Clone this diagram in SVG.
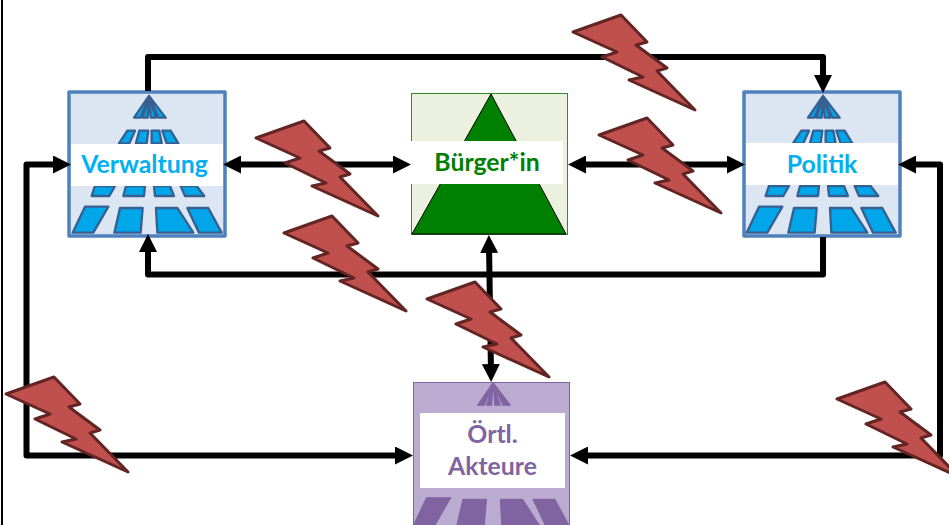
<svg xmlns="http://www.w3.org/2000/svg" width="949" height="525" viewBox="0 0 949 525">
<style>
text{font-family:"Lato","Open Sans","Liberation Sans",sans-serif;font-weight:700;text-anchor:middle;font-size:24.800px}
.conn{fill:none;stroke:#000;stroke-width:6;stroke-linejoin:round}
.bolt{fill:#c0504d;stroke:#632523;stroke-width:3;stroke-linejoin:round}
.blue .frame{fill:#dce6f2;stroke:#4f81bd;stroke-width:3.5;stroke-linejoin:round}
.road-blue{fill:#00a6ea;stroke:#376092;stroke-width:7;stroke-linejoin:round}
.road-purple{fill:#8064a2;stroke:#8064a2;stroke-width:3;stroke-linejoin:round}
.label{fill:#fff}
.bluetext{fill:#00b0f0}
</style>
<defs>
<marker id="ah" markerUnits="userSpaceOnUse" markerWidth="18" markerHeight="18" viewBox="0 0 18 18" refX="8" refY="9" orient="auto-start-reverse"><path d="M0,0L18,9L0,18Z" fill="#000"/></marker>
<g id="road">
<path d="M297,48L252,113H272ZM297,48L278,113H293ZM297,48L302,113H318ZM297,48L325,113H347Z"/>
<path d="M232,152H255L238,190H207ZM268,152H295L290,190H258ZM305,152H328L335,190H305ZM337,152H362L385,190H350Z"/>
<path d="M135,318H195L178,348H125ZM228,318H285L282,348H220ZM312,318H360L372,348H315ZM392,318H440L463,348H405Z"/>
<path d="M105,380H175L130,458H68ZM210,384H278L272,458H193ZM318,384H382L430,458H322ZM412,384H475L515,458H447Z"/>
</g>
<path id="b" d="M0,0L48,-17L74,10L63,13L94,36L84,39L122,78L56,48L70,45L29,25L44,20Z"/>
</defs>
<rect width="949" height="525" fill="#fff"/>
<path id="border" d="M2,0V525" stroke="#000" stroke-width="2" fill="none"/>
<g id="n-verwaltung" class="blue">
<rect class="frame" x="69" y="92" width="156" height="144"/>
<use href="#road" class="road-blue" transform="translate(50,80) scale(.3333)"/>
<rect class="label" x="71" y="144" width="152" height="42"/>
<text class="bluetext" x="144.500" y="172.500">Verwaltung</text>
</g>
<g id="n-buerger">
<rect x="411.500" y="93.500" width="156" height="141" fill="#ebf1de" stroke="#2e8b2e" stroke-width="1"/>
<path d="M491,94L412,234H566Z" fill="#008000" stroke="#000" stroke-width="1"/>
<rect class="label" x="411" y="141" width="152" height="43"/>
<text x="487" y="171" fill="#008000">Bürger*in</text>
</g>
<g id="n-politik" class="blue">
<rect class="frame" x="744" y="92" width="156" height="144"/>
<use href="#road" class="road-blue" transform="translate(724,80) scale(.3333)"/>
<rect class="label" x="746" y="143" width="152" height="42"/>
<text class="bluetext" x="822" y="172.500">Politik</text>
</g>
<g id="n-akteure">
<rect x="413.500" y="382.500" width="156" height="150" fill="#bcabd0" stroke="#8064a2" stroke-width="1"/>
<use href="#road" class="road-purple" transform="translate(390,366) scale(.347)"/>
<rect class="label" x="420" y="413" width="145" height="75"/>
<text x="492.500" y="443" fill="#8064a2">Örtl.</text>
<text x="492.500" y="474.500" fill="#8064a2">Akteure</text>
</g>
<g id="connectors">
<path class="conn" d="M148,91V57H823V83" marker-end="url(#ah)"/>
<path class="conn" d="M233,164.500H401" marker-start="url(#ah)" marker-end="url(#ah)"/>
<path class="conn" d="M578,164.500H735" marker-start="url(#ah)" marker-end="url(#ah)"/>
<path class="conn" d="M823,237V274.500H148V244" marker-end="url(#ah)"/>
<path class="conn" d="M489,245L491,372" marker-start="url(#ah)" marker-end="url(#ah)"/>
<path class="conn" d="M61,164.500H26.500V455.500H403" marker-start="url(#ah)" marker-end="url(#ah)"/>
<path class="conn" d="M908,164.500H940V455.500H580" marker-start="url(#ah)" marker-end="url(#ah)"/>
</g>
<g id="bolts">
<use href="#b" class="bolt" x="573" y="32"/>
<use href="#b" class="bolt" x="256" y="138"/>
<use href="#b" class="bolt" x="599" y="135"/>
<use href="#b" class="bolt" x="284" y="233"/>
<use href="#b" class="bolt" x="427" y="299"/>
<use href="#b" class="bolt" x="6" y="394"/>
<use href="#b" class="bolt" x="837" y="399"/>
</g>
</svg>
